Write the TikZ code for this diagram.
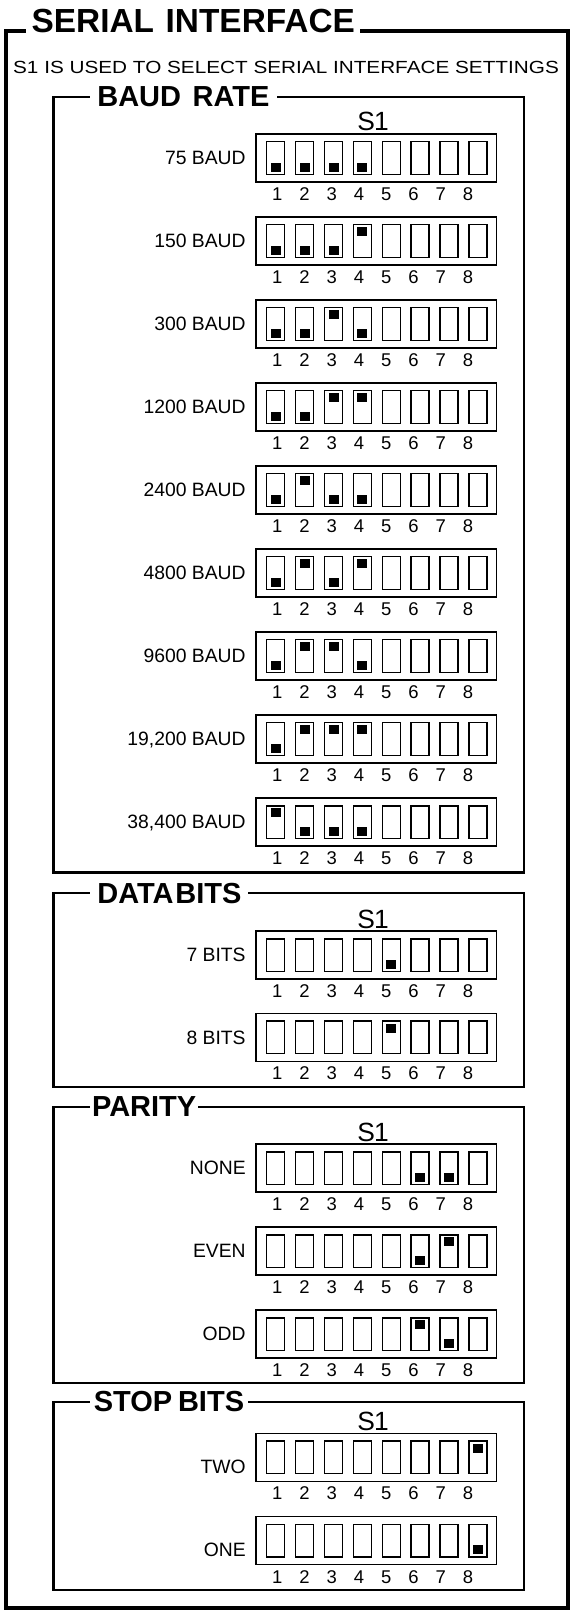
\documentclass[tikz,border=0pt]{standalone}
\usepackage{fontspec}
\setmainfont{Liberation Sans}
\usepackage{graphicx}
\usetikzlibrary{positioning}

\tikzset{
  frame/.style={line width=2pt},
  secbox/.style={line width=1.2pt},
  swbox/.style={line width=0.85pt},
  slot/.style={line width=0.9pt},
  knob/.style={fill=black},
  title/.style={fill=white,anchor=base west,inner xsep=3pt,inner ysep=3pt,font=\bfseries\fontsize{19}{21}\selectfont},
  subt/.style={inner sep=0pt,font=\fontsize{10}{12}\selectfont},
  head/.style={fill=white,anchor=west,inner xsep=4pt,inner ysep=1pt,font=\bfseries\fontsize{16.5}{18}\selectfont},
  lbl/.style={anchor=base east,inner sep=0pt,font=\fontsize{11}{13}\selectfont},
  num/.style={anchor=base,inner sep=0pt,font=\fontsize{10.5}{12}\selectfont},
  sone/.style={anchor=base,inner sep=0pt,font=\fontsize{15}{17}\selectfont}
}

\def\lbldrop{0}
% #1 name, #2 top edge, #3 label, #4 knobs (0 none, 1 down, 2 up)
\newcommand{\dipsw}[4]{%
  \draw[swbox] (256,#2) rectangle ++(240.7,48);
  \foreach \s [count=\i] in {#4} {
    \pgfmathsetmacro{\sx}{266.7+28.9*(\i-1)}
    \draw[slot] (\sx,#2+7.7) rectangle ++(18,32.6);
    \ifnum\s=1 \fill[knob] (\sx+4,#2+28.5) rectangle ++(10,9); \fi
    \ifnum\s=2 \fill[knob] (\sx+4,#2+10.2) rectangle ++(10,9); \fi
  }
  \foreach \n in {1,...,8}
    \node[num] (#1-\n) at ({277.3+27.25*(\n-1)},#2+66.5) {\n};
  \node[lbl] (#1) at (246,#2+30.9+\lbldrop) {#3};
}

\begin{document}
\begin{tikzpicture}[x=0.02cm,y=-0.02cm]
  \useasboundingbox (0,0) rectangle (571,1612);
  \draw[frame] (6,31) rectangle (568,1608);
  \node[title] (ttl) at (26,33) {SERIAL\hspace{0.35em}INTERFACE};
  \node[subt] (sub) at (286,67) {\scalebox{1.18}[1]{S1 IS USED TO SELECT SERIAL INTERFACE SETTINGS}};

  % baud rate
  \draw[secbox] (53.5,97) rectangle (523.7,872.5);
  \node[head] (hbaud) at (90,97) {BAUD\hspace{0.4em}RATE};
  \node[sone] (s1baud) at (373,131) {S\kern-0.5pt1};
  \dipsw{b75}{134}{75 BAUD}{1,1,1,1,0,0,0,0}
  \dipsw{b150}{217}{150 BAUD}{1,1,1,2,0,0,0,0}
  \dipsw{b300}{300}{300 BAUD}{1,1,2,1,0,0,0,0}
  \dipsw{b1200}{383}{1200 BAUD}{1,1,2,2,0,0,0,0}
  \dipsw{b2400}{466}{2400 BAUD}{1,2,1,1,0,0,0,0}
  \dipsw{b4800}{549}{4800 BAUD}{1,2,1,2,0,0,0,0}
  \dipsw{b9600}{632}{9600 BAUD}{1,2,2,1,0,0,0,0}
  \dipsw{b19200}{715}{19,200 BAUD}{1,2,2,2,0,0,0,0}
  \dipsw{b38400}{798}{38,400 BAUD}{2,1,1,1,0,0,0,0}

  % data bits
  \draw[secbox] (53.5,893.3) rectangle (523.7,1086.7);
  \node[head] (hdata) at (90,893.3) {DATA\hspace{1pt}BITS};
  \node[sone] (s1data) at (373,928) {S\kern-0.5pt1};
  \dipsw{d7}{931}{7 BITS}{0,0,0,0,1,0,0,0}
  \dipsw{d8}{1013.3}{8 BITS}{0,0,0,0,2,0,0,0}

  % parity
  \draw[secbox] (53.5,1107) rectangle (523.7,1383);
  \node[head,inner xsep=1pt] (hpar) at (90,1107) {PARITY};
  \node[sone] (s1par) at (373,1141) {S\kern-0.5pt1};
  \dipsw{pnone}{1144}{NONE}{0,0,0,0,0,1,1,0}
  \dipsw{peven}{1227}{EVEN}{0,0,0,0,0,1,2,0}
  \dipsw{podd}{1310}{ODD}{0,0,0,0,0,2,1,0}

  % stop bits
  \draw[secbox] (53.5,1401.7) rectangle (523.7,1590);
  \node[head,inner xsep=2pt] (hstop) at (90,1401.7) {STOP\hspace{0.2em}BITS};
  \node[sone] (s1stop) at (373,1430.3) {S\kern-0.5pt1};
  \def\lbldrop{9}
  \dipsw{stwo}{1433.3}{TWO}{0,0,0,0,0,0,0,2}
  \dipsw{sone}{1516.7}{ONE}{0,0,0,0,0,0,0,1}
\end{tikzpicture}
\end{document}
